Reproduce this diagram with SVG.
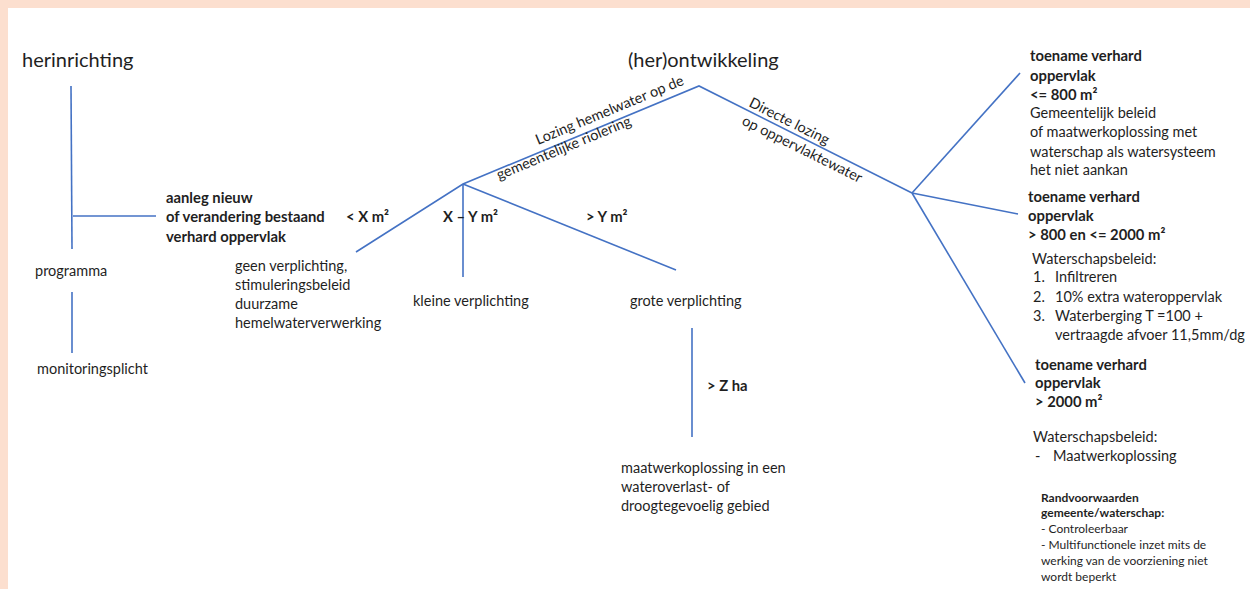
<svg xmlns="http://www.w3.org/2000/svg" width="1250" height="589" viewBox="0 0 1250 589">
<style>
text{font-family:Lato,"Open Sans",sans-serif;fill:#1f1f1f;font-size:14.5px}
.t{font-size:20px}
.b{font-weight:bold;font-size:14.8px}
.s{font-size:12px}
.c line,.c polyline{stroke:#4472C4;stroke-width:1.6;fill:none}
</style>
<rect x="0" y="0" width="1250" height="589" fill="#ffffff"/>
<rect x="0" y="0" width="1250" height="8" fill="#FCDFCF"/>
<rect x="0" y="0" width="8" height="589" fill="#FCDFCF"/>
<g class="c" id="connectors">
<line x1="71" y1="86" x2="72" y2="249"/>
<line x1="73" y1="216" x2="156" y2="216"/>
<line x1="72" y1="292" x2="72" y2="353"/>
<polyline points="356,252 463,184 699,86 912,193"/>
<line x1="463" y1="184" x2="463" y2="277"/>
<line x1="463" y1="184" x2="676" y2="270"/>
<line x1="692" y1="328" x2="692" y2="437"/>
<line x1="912" y1="193" x2="1020" y2="73"/>
<line x1="912" y1="193" x2="1018" y2="214"/>
<line x1="912" y1="193" x2="1025" y2="383"/>
</g>
<g id="herinrichting"><text class="t" x="22" y="67">herinrichting</text></g>
<g id="ontwikkeling"><text class="t" x="628" y="67">(her)ontwikkeling</text></g>
<g id="aanleg">
<text class="b" x="166" y="203">aanleg nieuw</text>
<text class="b" x="166" y="222">of verandering bestaand</text>
<text class="b" x="166" y="242">verhard oppervlak</text>
</g>
<g id="programma"><text x="35" y="276">programma</text></g>
<g id="monitoringsplicht"><text x="37" y="374">monitoringsplicht</text></g>
<g id="label-lozing">
<text transform="translate(538,145) rotate(-22.5)">Lozing hemelwater op de</text>
<text transform="translate(499,180) rotate(-22.5)">gemeentelijke riolering</text>
</g>
<g id="label-directe">
<text transform="translate(748,106) rotate(26.5)">Directe lozing</text>
<text transform="translate(741,124) rotate(26.5)">op oppervlaktewater</text>
</g>
<g id="labels-m2">
<text class="b" x="346" y="222">&lt; X m²</text>
<text class="b" x="443" y="222">X – Y m²</text>
<text class="b" x="586" y="222">&gt; Y m²</text>
<text class="b" x="707" y="391">&gt; Z ha</text>
</g>
<g id="geen">
<text x="235" y="271">geen verplichting,</text>
<text x="235" y="290">stimuleringsbeleid</text>
<text x="235" y="309">duurzame</text>
<text x="235" y="328">hemelwaterverwerking</text>
</g>
<g id="kleine"><text x="413" y="306">kleine verplichting</text></g>
<g id="grote"><text x="630" y="306">grote verplichting</text></g>
<g id="maatwerk">
<text x="621" y="473">maatwerkoplossing in een</text>
<text x="621" y="492">wateroverlast- of</text>
<text x="621" y="511">droogtegevoelig gebied</text>
</g>
<g id="toename-800">
<text class="b" x="1030" y="61">toename verhard</text>
<text class="b" x="1030" y="81">oppervlak</text>
<text class="b" x="1030" y="100">&lt;= 800 m²</text>
<text x="1030" y="118">Gemeentelijk beleid</text>
<text x="1030" y="137">of maatwerkoplossing met</text>
<text x="1030" y="157">waterschap als watersysteem</text>
<text x="1030" y="175">het niet aankan</text>
</g>
<g id="toename-2000">
<text class="b" x="1028" y="202">toename verhard</text>
<text class="b" x="1028" y="221">oppervlak</text>
<text class="b" x="1028" y="240">&gt; 800 en &lt;= 2000 m²</text>
<text x="1032" y="264">Waterschapsbeleid:</text>
<text x="1033" y="282">1.</text><text x="1055" y="282">Infiltreren</text>
<text x="1033" y="302">2.</text><text x="1055" y="302">10% extra wateroppervlak</text>
<text x="1033" y="321">3.</text><text x="1055" y="321">Waterberging T =100 +</text>
<text x="1055" y="340">vertraagde afvoer 11,5mm/dg</text>
</g>
<g id="toename-groot">
<text class="b" x="1035" y="370">toename verhard</text>
<text class="b" x="1035" y="388">oppervlak</text>
<text class="b" x="1035" y="407">&gt; 2000 m²</text>
<text x="1033" y="442">Waterschapsbeleid:</text>
<text x="1035" y="461">-</text><text x="1053" y="461">Maatwerkoplossing</text>
</g>
<g id="randvoorwaarden">
<text class="s b" x="1041" y="502" style="font-size:12px">Randvoorwaarden</text>
<text class="s b" x="1041" y="517" style="font-size:12px">gemeente/waterschap:</text>
<text class="s" x="1041" y="533">- Controleerbaar</text>
<text class="s" x="1041" y="549">- Multifunctionele inzet mits de</text>
<text class="s" x="1041" y="565">werking van de voorziening niet</text>
<text class="s" x="1041" y="581">wordt beperkt</text>
</g>
</svg>
